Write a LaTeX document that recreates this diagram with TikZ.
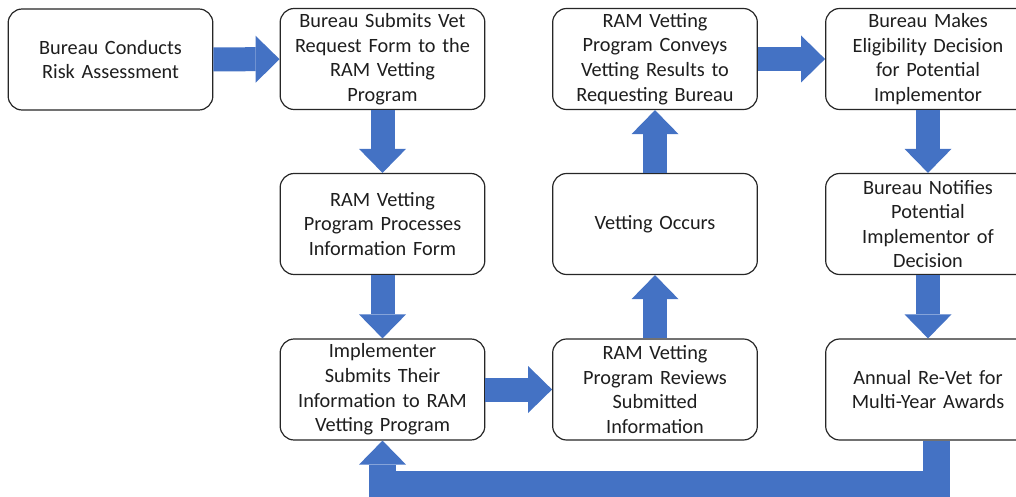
\documentclass[tikz,border=0pt]{standalone}
\usepackage{fontspec}
\setmainfont{Carlito}
\usetikzlibrary{arrows.meta}

\definecolor{flowblue}{HTML}{4472C4}
\definecolor{boxtext}{HTML}{1E1E1E}

\begin{document}
\begin{tikzpicture}[x=1pt, y=-1pt,
    box/.style={draw=black!85, line width=1.2pt, rounded corners=14pt, fill=white,
        minimum width=201pt, minimum height=101pt, text width=198pt, align=center,
        text=boxtext, font=\fontsize{20.3}{24.6}\selectfont},
    flow/.style={draw=flowblue, line width=24pt,
        -{Triangle[length=24pt, width=47pt, line width=0pt]}},
    loopflow/.style={flow, line width=27pt}]
                    \useasboundingbox (0,0) rectangle (1016,497);
                    \clip (0,0) rectangle (1016,497);
                    % first row
                    \node[box] (risk) at (110.5,59.5) {Bureau Conducts\\Risk Assessment};
                    \node[box] (vetreq) at (382.5,59) {Bureau Submits Vet\\Request Form to the\\RAM Vetting\\Program};
                    \node[box] (convey) at (655,59) {RAM Vetting\\Program Conveys\\Vetting Results to\\Requesting Bureau};
                    \node[box] (decide) at (928,59) {Bureau Makes\\Eligibility Decision\\for Potential\\Implementor};
                    % second row
                    \node[box] (process) at (382.5,224) {RAM Vetting\\Program Processes\\Information Form};
                    \node[box] (vetting) at (655,224) {Vetting Occurs};
                    \node[box] (notify) at (928,224) {Bureau Notifies\\Potential\\Implementor of\\Decision};
                    % third row
                    \node[box] (submit) at (382.5,389.5) {Implementer\\Submits Their\\Information to RAM\\Vetting Program};
                    \node[box] (review) at (655,389.5) {RAM Vetting\\Program Reviews\\Submitted\\Information};
                    \node[box] (revet) at (928,389.5) {Annual Re-Vet for\\Multi-Year Awards};
                    % block arrows between the steps
                    \draw[flow] (risk) -- (vetreq);
                    \draw[flow] (vetreq) -- (process);
                    \draw[flow] (process) -- (submit);
                    \draw[flow] (submit) -- (review);
                    \draw[flow] (review) -- (vetting);
                    \draw[flow] (vetting) -- (convey);
                    \draw[flow] (convey) -- (decide);
                    \draw[flow] (decide) -- (notify);
                    \draw[flow] (notify) -- (revet);
                    % yearly loop back to the implementer
                    \draw[loopflow] ([xshift=8pt]revet.south) -- ++(0,44) -| (submit.south);
                \end{tikzpicture}
\end{document}
